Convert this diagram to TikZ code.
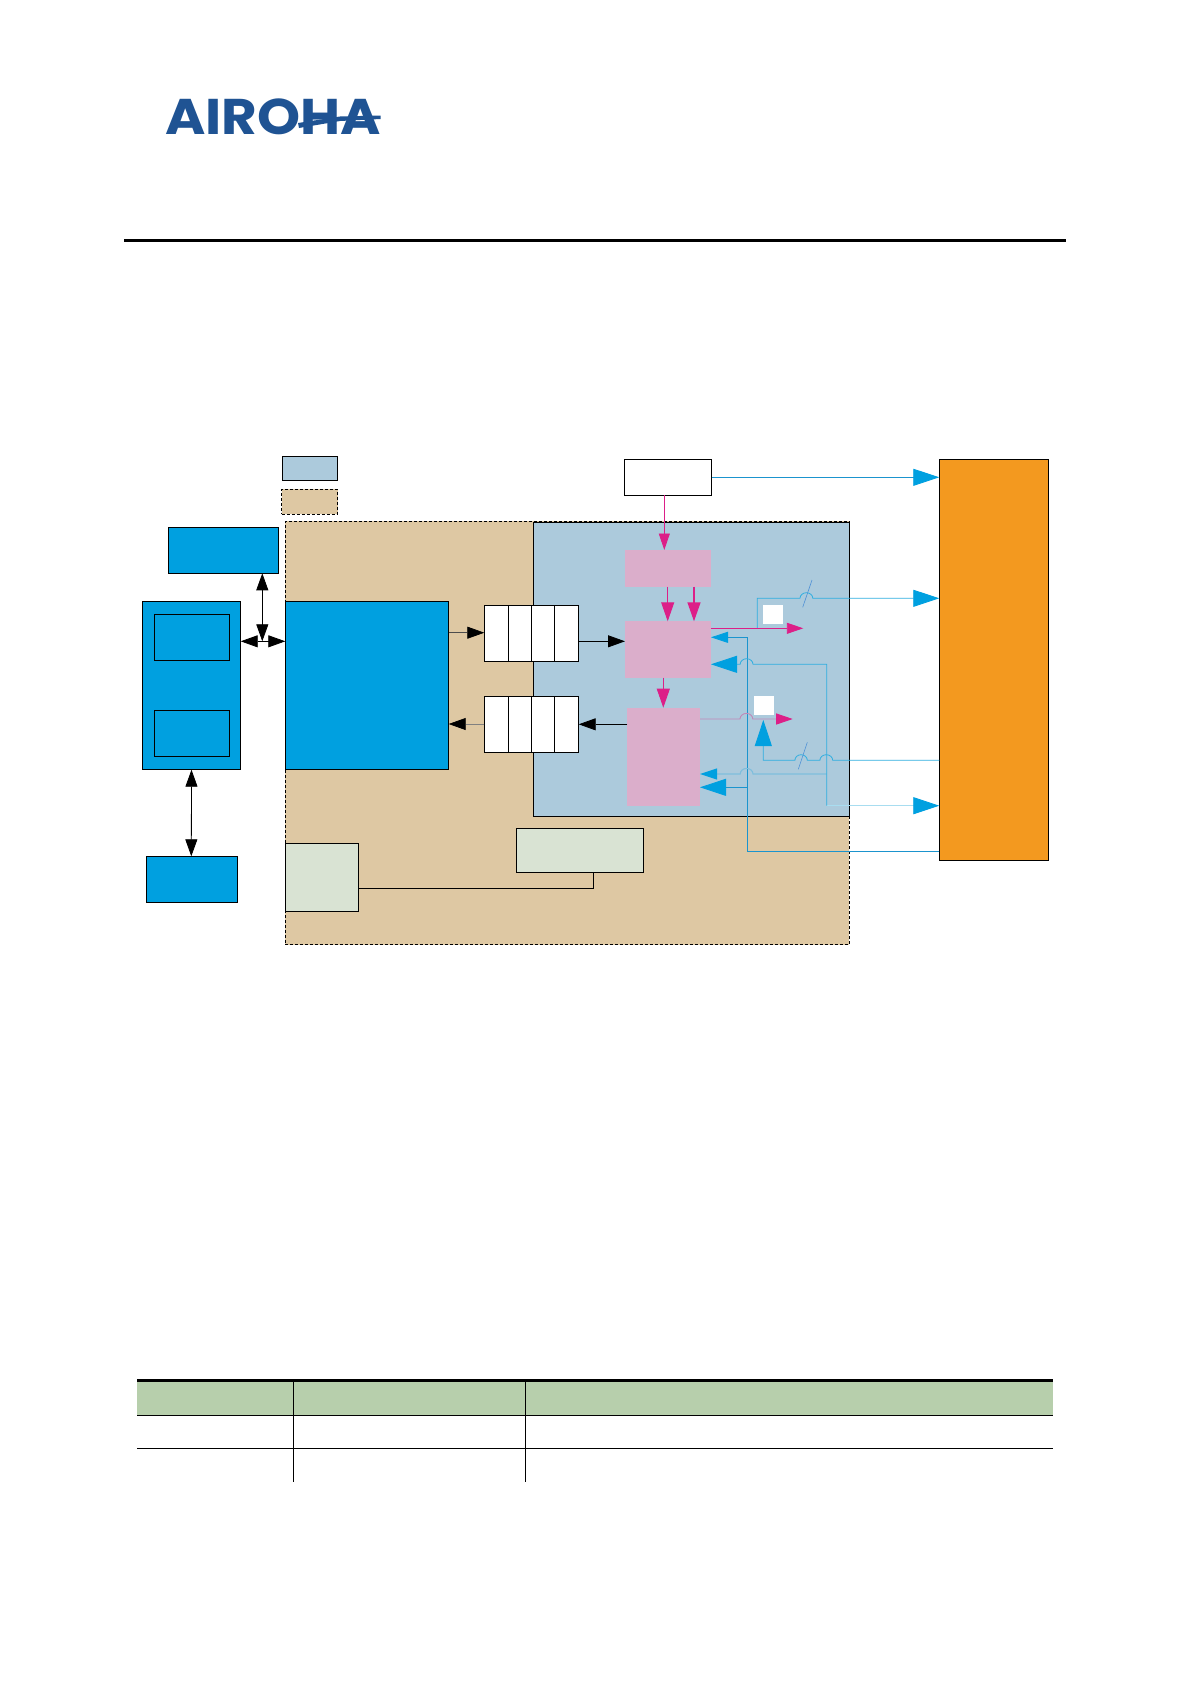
\documentclass[tikz,border=0pt]{standalone}
\usepackage{fontspec}
\usetikzlibrary{arrows.meta}
\newfontfamily\logofont{Poppins}[BoldFont=* Bold]
\definecolor{tanfill}{HTML}{DEC8A3}
\definecolor{regblue}{HTML}{ACCADC}
\definecolor{pinkfill}{HTML}{DBAECB}
\definecolor{brightblue}{HTML}{00A0E0}
\definecolor{orangefill}{HTML}{F3991F}
\definecolor{palegreen}{HTML}{D9E3D3}
\definecolor{headgreen}{HTML}{B7CFAC}
\definecolor{magline}{HTML}{DC1F88}
\definecolor{fadepink}{HTML}{C088B8}
\definecolor{lineblue}{HTML}{2FAEE0}
\definecolor{deepblue}{HTML}{1B94CE}
\definecolor{fadeblue}{HTML}{7FBEDD}
\definecolor{paleblue}{HTML}{A8DDF0}
\definecolor{slashblue}{HTML}{4C8FD6}
\definecolor{logoblue}{HTML}{1F5393}
\newcommand{\bx}[6]{%
  \pgfmathsetmacro\bxw{#5-#3}\pgfmathsetmacro\bxh{#6-#4}%
  \pgfmathsetmacro\bxx{(#5+#3)/2}\pgfmathsetmacro\bxy{(#6+#4)/2}%
  \node[#2,minimum width=\bxw pt,minimum height=\bxh pt,inner sep=0pt,outer sep=0pt] (#1) at (\bxx,\bxy) {};}
\tikzset{
  x=1pt,y=-1pt,
  frame/.style={draw=black,line width=0.9pt},
  bluebox/.style={frame,fill=brightblue},
  greenbox/.style={frame,fill=palegreen},
  whitebox/.style={frame,fill=white},
  pinkbox/.style={fill=pinkfill},
  tanbox/.style={draw=black,fill=tanfill,dashed,dash pattern=on 3pt off 2pt,line width=0.8pt},
  blackarr/.style={line width=0.8pt,draw=black},
  blackone/.style={-{Triangle[length=17pt,width=12pt,color=black]}},
  blacktwo/.style={{Triangle[length=17pt,width=12pt,color=black]}-{Triangle[length=17pt,width=12pt,color=black]}},
  magsmall/.style={line width=0.9pt,draw=magline,-{Triangle[length=16.5pt,width=11pt,color=magline]}},
  magbig/.style={line width=0.9pt,draw=magline,-{Triangle[length=19pt,width=13pt,color=magline]}},
  bluesmall/.style={-{Triangle[length=17pt,width=11pt,color=brightblue]}},
  bluebig/.style={-{Triangle[length=26pt,width=17pt,color=brightblue]}},
  bline/.style={line width=0.8pt,draw=lineblue},
  jumpslash/.style={line width=0.6pt,draw=slashblue},
}
\begin{document}
\begin{tikzpicture}
\useasboundingbox (0,0) rectangle (1190,1684);
\fill[white] (0,0) rectangle (1190,1684);
% logo
\node[inner sep=0pt,anchor=north west,text=logoblue] (logo) at (165,98.3)
  {\resizebox{215.7pt}{35.7pt}{\logofont\bfseries AIROHA}};
\fill[logoblue] (298,123) -- (340,116.5) -- (380.7,115.5) -- (380.7,119) -- (340,121) -- (299,128) -- cycle;
% header rule
\coordinate (ruleL) at (124,240.3);
\coordinate (ruleR) at (1066,240.3);
\draw[line width=3pt] (ruleL) -- (ruleR);
% legend
\bx{legblue}{frame,fill=regblue}{282.3}{456.3}{337.7}{480.7}
\bx{legtan}{tanbox}{281.7}{489.3}{337.7}{514}
% regions
\bx{tanreg}{tanbox}{285.3}{521.3}{849.3}{944.7}
\bx{bluereg}{frame,fill=regblue}{533.3}{522}{849.3}{816.3}
% left column
\bx{mem}{bluebox}{168.3}{527.3}{278.7}{573.3}
\bx{host}{bluebox}{142.3}{601.3}{240.7}{769.7}
\bx{hosta}{bluebox}{154.3}{614.3}{229.7}{660.3}
\bx{hostb}{bluebox}{154.3}{710.3}{229.7}{756.3}
\bx{ext}{bluebox}{146.3}{856.3}{237.7}{902.3}
\bx{core}{bluebox}{285.3}{601.3}{448.7}{769.7}
\bx{gleft}{greenbox}{285.3}{843.3}{358.7}{911.3}
\bx{gright}{greenbox}{516.3}{828.3}{643.7}{872.3}
% fifos
\bx{fa1}{whitebox}{484.3}{605.3}{508.7}{661.3}
\bx{fa2}{whitebox}{508.7}{605.3}{531.7}{661.3}
\bx{fa3}{whitebox}{531.7}{605.3}{554.7}{661.3}
\bx{fa4}{whitebox}{554.7}{605.3}{578.7}{661.3}
\bx{fb1}{whitebox}{484.3}{696.3}{508.7}{752.3}
\bx{fb2}{whitebox}{508.7}{696.3}{531.7}{752.3}
\bx{fb3}{whitebox}{531.7}{696.3}{554.7}{752.3}
\bx{fb4}{whitebox}{554.7}{696.3}{578.7}{752.3}
% pink / white / orange
\bx{clk}{whitebox}{624.3}{459.3}{711.7}{495.3}
\bx{pa}{pinkbox}{625}{550}{711}{586.7}
\bx{pb}{pinkbox}{625}{621.3}{711}{677.7}
\bx{pc}{pinkbox}{627.3}{707.7}{700}{805.7}
\bx{sqa}{fill=white}{763}{605}{783}{624}
\bx{sqb}{fill=white}{754}{696}{774}{715}
\bx{orng}{frame,fill=orangefill}{939.3}{459.3}{1048.3}{860.7}
% coordinates for free line ends
\coordinate (pbout) at (803.3,628.3);
\coordinate (pcout) at (792.7,719);
% black connectors
\draw[blackarr,blacktwo] (262.3,0 |- mem.south) -- (262.3,641.3);
\draw[blackarr,blacktwo] (host.east |- 0,641.3) -- (core.west |- 0,641.3);
\draw[blackarr,blacktwo] (host.south) -- (191.3,0 |- ext.north);
\draw[line width=0.7pt,draw=black!70,blackone] (core.east |- 0,632.7) -- (fa1.west |- 0,632.7);
\draw[line width=0.7pt,draw=black!50,blackone] (fb1.west |- 0,724) -- (core.east |- 0,724);
\draw[blackarr,blackone] (fa4.east |- 0,641.3) -- (pb.west |- 0,641.3);
\draw[blackarr,blackone] (pc.west |- 0,724.3) -- (fb4.east |- 0,724.3);
\draw[blackarr] (gleft.east |- 0,888.3) -| (593.7,0 |- gright.south);
% magenta connectors
\draw[magsmall] (664.3,0 |- clk.south) -- (664.3,0 |- pa.north);
\draw[magbig] (667.7,0 |- pa.south) -- (667.7,0 |- pb.north);
\draw[magbig,line width=1.4pt] (694,0 |- pa.south) -- (694,0 |- pb.north);
\draw[magbig] (663.3,0 |- pb.south) -- (663.3,0 |- pc.north);
% blue branch to orange (upper)
\draw[bline,bluebig] (757.3,628.3) -- (757.3,598.3) -- (800,598.3) arc (180:360:6.4 and 5.6) -- (orng.west |- 0,598.3);
\draw[jumpslash] (802.7,607.3) -- (812,580);
% magenta output pb
\draw[magsmall] (pb.east |- 0,628.3) -- (pbout);
% clock to orange
\draw[line width=0.8pt,draw=deepblue,bluebig] (clk.east |- 0,477.3) -- (orng.west |- 0,477.3);
% deep blue feedback
\draw[line width=0.8pt,draw=deepblue,bluesmall] (orng.west |- 0,851.3) -- (747.3,851.3) -- (747.3,637.3) -- (pb.east |- 0,637.3);
\draw[line width=0.8pt,draw=deepblue,bluebig] (747.3,787.3) -- (pc.east |- 0,787.3);
% lower blue loop
\draw[line width=0.8pt,draw=paleblue,bluebig] (826.7,805.7) -- (orng.west |- 0,805.7);
\draw[line width=1.1pt,draw=fadeblue,bluesmall] (826.7,774) -- (753,774) arc (360:180:6.4 and 5.6) -- (pc.east |- 0,774);
\draw[bline,bluebig] (826.7,805.7) -- (826.7,664.3) -- (753,664.3) arc (360:180:6.4 and 5.6) -- (pb.east |- 0,664.3);
% second branch from orange to up arrow
\draw[bline,bluebig] (orng.west |- 0,760.3) -- (832.7,760.3) arc (360:180:6.4 and 5.6) -- (807.3,760.3) arc (360:180:6.2 and 5.6) -- (763.3,760.3) -- (763.3,720);
\draw[jumpslash] (798.3,769.3) -- (807.3,742.3);
% magenta output pc
\draw[line width=0.9pt,draw=fadepink,-{Triangle[length=16.5pt,width=11pt,color=magline]}] (pc.east |- 0,719) -- (740,719) arc (180:360:6.4 and 5.6) -- (pcout);
% table
\coordinate (tl) at (137,1382);
\coordinate (tr) at (1052.7,1415.3);
\fill[headgreen] (tl) rectangle (tr);
\draw[line width=3pt] (137,1380.5) -- (1052.7,1380.5);
\draw[line width=1pt] (137,1415.3) -- (1052.7,1415.3);
\draw[line width=1pt] (137,1448.3) -- (1052.7,1448.3);
\draw[line width=0.9pt] (293.3,1382) -- (293.3,1482);
\draw[line width=0.9pt] (525.7,1382) -- (525.7,1482);
\end{tikzpicture}
\end{document}
